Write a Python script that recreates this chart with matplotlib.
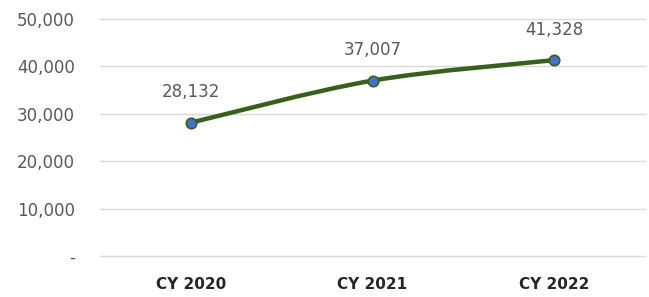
import matplotlib.pyplot as plt
from matplotlib.path import Path
from matplotlib.patches import PathPatch
from matplotlib.ticker import FuncFormatter

years = ['CY 2020', 'CY 2021', 'CY 2022']
values = [28132, 37007, 41328]

fig = plt.figure(figsize=(6.49, 2.97), dpi=100)
ax = fig.add_axes([0.154, 0.138, 0.840, 0.798])

x = list(range(len(values)))

# smoothed line (Catmull-Rom as cubic bezier through the data points)
px = [x[0]] + x + [x[-1]]
py = [values[0]] + values + [values[-1]]
verts = [(x[0], values[0])]
codes = [Path.MOVETO]
for i in range(1, len(px) - 2):
    c1 = (px[i] + (px[i + 1] - px[i - 1]) / 6, py[i] + (py[i + 1] - py[i - 1]) / 6)
    c2 = (px[i + 1] - (px[i + 2] - px[i]) / 6, py[i + 1] - (py[i + 2] - py[i]) / 6)
    verts += [c1, c2, (px[i + 1], py[i + 1])]
    codes += [Path.CURVE4] * 3
ax.add_patch(PathPatch(Path(verts, codes), facecolor='none', edgecolor='#38601c',
                       lw=3.2, capstyle='round', zorder=3))

ax.plot(x, values, linestyle='none', marker='o', markersize=7.5,
        markerfacecolor='#4472C4', markeredgecolor='#38601c', markeredgewidth=1.2, zorder=4)

for xi, v in zip(x, values):
    ax.annotate(f'{v:,}', (xi, v), xytext=(0, 22), textcoords='offset points',
                ha='center', va='center', fontsize=12, color='#595959')

ax.set_xlim(-0.5, 2.5)
ax.set_ylim(0, 50000)
ax.set_yticks(range(0, 50001, 10000))
ax.yaxis.set_major_formatter(FuncFormatter(lambda v, p: '-' if v == 0 else f'{int(v):,}'))
ax.set_xticks(x)
ax.set_xticklabels(years, fontsize=11, fontweight='bold', color='#262626')
ax.tick_params(axis='y', labelsize=12, labelcolor='#595959', length=0, pad=18)
ax.tick_params(axis='x', length=0, pad=15)
ax.grid(axis='y', color='#d9d9d9', lw=1.0)
for gl in ax.get_ygridlines():
    gl.set_clip_on(False)
ax.set_axisbelow(True)
for s in ax.spines.values():
    s.set_visible(False)

plt.savefig('out.png', dpi=100)
